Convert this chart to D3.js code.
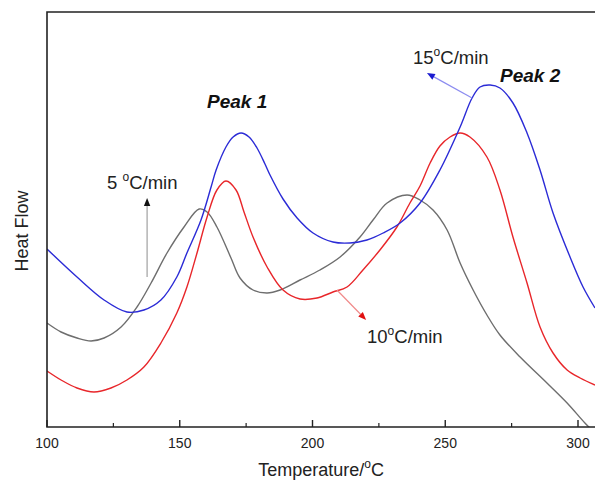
<!DOCTYPE html>
<html>
<head>
<meta charset="utf-8">
<script src="https://cdn.jsdelivr.net/npm/d3@7"></script>
<style>
  body { margin: 0; background: #fff; }
  svg { font-family: "Liberation Sans", Arial, sans-serif; }
</style>
</head>
<body>
<div id="plot"></div>
<script>
// DSC curves, heat flow in arbitrary units
var temp5 = [100.0, 105.3, 111.3, 116.6, 121.5, 127.9, 133.9, 139.2, 145.2, 151.6, 157.3, 160.3, 164.0, 169.3, 172.7, 177.6, 182.9, 187.8, 195.3, 202.8, 210.4, 217.9, 222.8, 228.1, 235.6, 240.5, 245.4, 250.7, 255.6, 260.5, 265.7, 270.6, 278.2, 288.3, 295.9, 302.6, 306.4];
var flow5 = [10.4, 9.5, 8.9, 8.6, 8.9, 10.0, 12.0, 14.4, 17.4, 20.0, 21.8, 21.5, 20.0, 16.9, 14.9, 13.7, 13.4, 13.7, 14.7, 15.7, 17.0, 19.0, 20.7, 22.4, 23.2, 22.7, 21.7, 19.7, 16.4, 13.7, 11.2, 9.2, 7.0, 4.4, 2.4, 0.4, -0.6];

var temp10 = [100.0, 105.3, 111.3, 117.7, 124.1, 130.1, 136.5, 142.9, 148.9, 152.7, 156.5, 160.3, 164.0, 167.4, 171.2, 174.2, 177.6, 182.9, 188.9, 195.3, 201.7, 207.7, 213.0, 219.0, 225.4, 231.8, 236.7, 240.5, 244.3, 248.0, 251.8, 255.6, 259.3, 265.7, 270.6, 275.5, 280.8, 285.7, 290.6, 295.9, 300.8, 306.4];
var flow10 = [5.6, 4.7, 3.9, 3.5, 3.9, 4.7, 6.0, 8.4, 11.4, 14.0, 17.4, 21.0, 23.7, 24.6, 23.7, 21.5, 19.0, 16.0, 13.7, 12.8, 12.9, 13.5, 14.0, 15.7, 17.7, 20.0, 22.4, 24.1, 26.4, 28.1, 29.0, 29.4, 29.0, 27.0, 23.7, 19.0, 14.4, 10.0, 7.4, 5.7, 4.9, 4.2];

var temp15 = [100.0, 111.3, 121.5, 130.1, 136.5, 142.9, 148.9, 152.7, 158.0, 161.8, 163.7, 167.4, 170.1, 173.1, 176.1, 179.1, 182.1, 184.0, 188.9, 194.2, 200.2, 207.7, 214.1, 220.5, 226.6, 233.0, 240.5, 248.0, 255.6, 260.1, 263.1, 266.9, 270.6, 275.5, 280.8, 285.7, 290.6, 297.0, 301.9, 306.4];
var flow15 = [17.8, 15.0, 12.7, 11.5, 11.7, 12.7, 15.0, 17.4, 20.7, 24.0, 25.7, 28.0, 29.0, 29.4, 29.0, 27.9, 26.3, 25.2, 22.8, 20.9, 19.4, 18.5, 18.4, 18.7, 19.4, 20.4, 22.4, 25.7, 30.0, 32.9, 34.0, 34.2, 33.9, 32.4, 29.4, 25.7, 21.4, 17.0, 14.0, 11.9];

var xTicks = [100, 150, 200, 250, 300];
var xMinor = [125, 175, 225, 275];

var series = [
  { name: "5", t: temp5, v: flow5, color: "#6e6e6e" },
  { name: "10", t: temp10, v: flow10, color: "#e8262a" },
  { name: "15", t: temp15, v: flow15, color: "#2b2bd6" }
];

var width = 595, height = 481;
var plotLeft = 47, plotTop = 12, plotBottom = 427, plotRight = 595;

var svg = d3.select("#plot").append("svg")
  .attr("width", width)
  .attr("height", height);

var x = d3.scaleLinear().domain([100, 300]).range([plotLeft, 578]);
var y = d3.scaleLinear().domain([0, 41.5]).range([plotBottom, plotTop]);

svg.append("clipPath").attr("id", "clip")
  .append("rect")
  .attr("x", plotLeft).attr("y", plotTop)
  .attr("width", plotRight - plotLeft).attr("height", plotBottom - plotTop);

var line = d3.line()
  .x(function(d) { return x(d[0]); })
  .y(function(d) { return y(d[1]); })
  .curve(d3.curveCatmullRom.alpha(0.5));

svg.append("g").attr("clip-path", "url(#clip)")
  .selectAll("path")
  .data(series)
  .join("path")
    .attr("d", function(s) { return line(s.t.map(function(t, i) { return [t, s.v[i]]; })); })
    .attr("fill", "none")
    .attr("stroke", function(s) { return s.color; })
    .attr("stroke-width", 1.4);

// frame
svg.append("path")
  .attr("d", "M" + plotRight + "," + plotTop + "H" + plotLeft + "V" + plotBottom + "H" + plotRight)
  .attr("fill", "none")
  .attr("stroke", "#222")
  .attr("stroke-width", 1.6);

// ticks (inward)
svg.selectAll(".major")
  .data(xTicks)
  .join("line")
    .attr("class", "major")
    .attr("x1", function(d) { return x(d); }).attr("x2", function(d) { return x(d); })
    .attr("y1", plotBottom).attr("y2", plotBottom - 7)
    .attr("stroke", "#222").attr("stroke-width", 1.4);

svg.selectAll(".minor")
  .data(xMinor)
  .join("line")
    .attr("class", "minor")
    .attr("x1", function(d) { return x(d); }).attr("x2", function(d) { return x(d); })
    .attr("y1", plotBottom).attr("y2", plotBottom - 4)
    .attr("stroke", "#222").attr("stroke-width", 1.2);

svg.selectAll(".tlabel")
  .data(xTicks)
  .join("text")
    .attr("class", "tlabel")
    .attr("x", function(d) { return x(d); })
    .attr("y", 448)
    .attr("text-anchor", "middle")
    .style("font-size", "14px")
    .style("fill", "#222")
    .text(function(d) { return d; });

// axis titles
var xt = svg.append("text")
  .attr("x", 321).attr("y", 476)
  .attr("text-anchor", "middle")
  .style("font-size", "18px")
  .style("fill", "#222");
xt.append("tspan").text("Temperature/");
xt.append("tspan").attr("dy", -8).style("font-size", "12px").text("o");
xt.append("tspan").attr("dy", 8).text("C");

svg.append("text")
  .attr("transform", "translate(28,231) rotate(-90)")
  .attr("text-anchor", "middle")
  .style("font-size", "18px")
  .style("fill", "#222")
  .text("Heat Flow");

// annotations
function rateLabel(px, py, pre) {
  var t = svg.append("text")
    .attr("x", px).attr("y", py)
    .style("font-size", "18.5px")
    .style("fill", "#222");
  t.append("tspan").text(pre);
  t.append("tspan").attr("dy", -8).style("font-size", "12px").text("o");
  t.append("tspan").attr("dy", 8).text("C/min");
}
rateLabel(107, 189, "5 ");
rateLabel(413, 64, "15");
rateLabel(367, 343, "10");

svg.append("text").attr("x", 207).attr("y", 108)
  .style("font-size", "19px").style("font-weight", "bold").style("font-style", "italic")
  .style("fill", "#111").text("Peak 1");
svg.append("text").attr("x", 500).attr("y", 82)
  .style("font-size", "19px").style("font-weight", "bold").style("font-style", "italic")
  .style("fill", "#111").text("Peak 2");

// arrows: [fromT, fromV, toT, toV, line colour, head colour]
var arrows = [
  [137.7, 15.0, 137.7, 22.9, "#a0a0a0", "#111"],
  [260.1, 32.9, 243.1, 35.4, "#8c8cf0", "#1a1ad0"],
  [209.2, 13.7, 220.2, 10.7, "#f08a8a", "#e01010"]
];

arrows.forEach(function(a) {
  var x1 = x(a[0]), y1 = y(a[1]), x2 = x(a[2]), y2 = y(a[3]);
  var ang = Math.atan2(y2 - y1, x2 - x1);
  var len = 8, wid = 3.2;
  var bx = x2 - len * Math.cos(ang), by = y2 - len * Math.sin(ang);
  svg.append("line")
    .attr("x1", x1).attr("y1", y1).attr("x2", bx).attr("y2", by)
    .attr("stroke", a[4]).attr("stroke-width", 1.2);
  var px = -Math.sin(ang) * wid, py = Math.cos(ang) * wid;
  svg.append("path")
    .attr("d", "M" + x2 + "," + y2 + "L" + (bx + px) + "," + (by + py) + "L" + (bx - px) + "," + (by - py) + "Z")
    .attr("fill", a[5]);
});
</script>
</body>
</html>
